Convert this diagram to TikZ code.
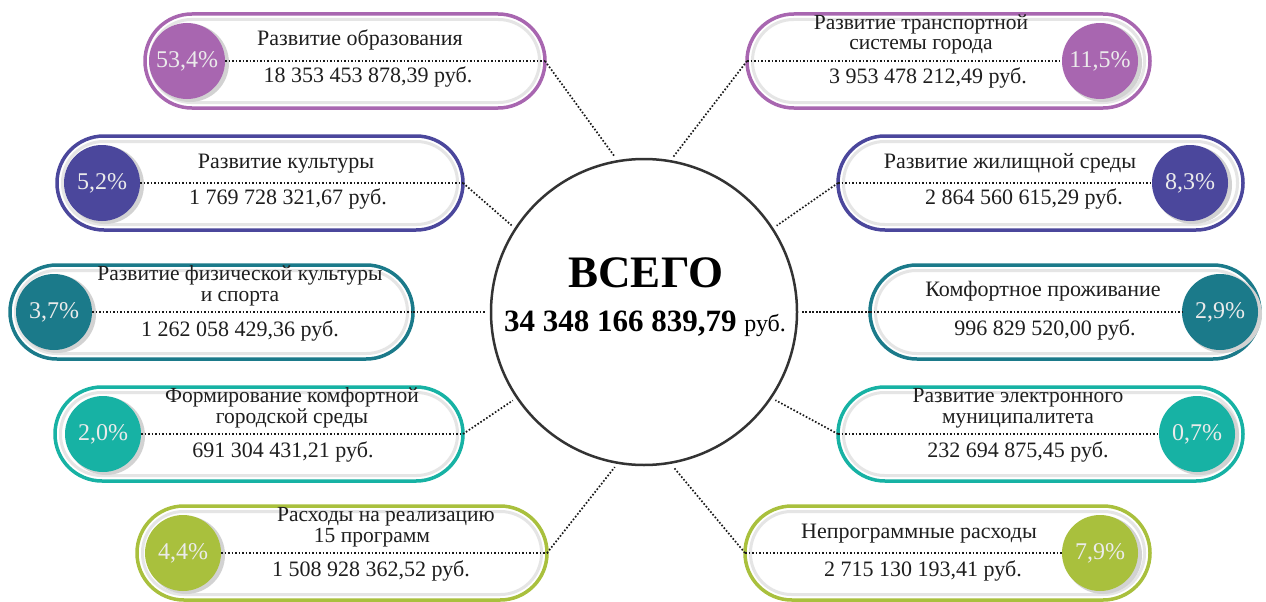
\documentclass[tikz,border=0pt]{standalone}
\usepackage{fontspec}
\setmainfont{Liberation Serif}
\definecolor{cPur}{HTML}{A866B0}
\definecolor{cBlu}{HTML}{4B479C}
\definecolor{cTea}{HTML}{1B7A8A}
\definecolor{cTur}{HTML}{17B2A4}
\definecolor{cGrn}{HTML}{A9C03D}
\definecolor{txt}{HTML}{1E1E1E}
\newcommand\pillshape[4]{% x1 x2 yc color
  \fill[white, rounded corners=46.9pt] (#1,#3-47) rectangle (#2,#3+47);
  \draw[gray!20, line width=3pt, rounded corners=41pt] (#1+5.5,#3-41.5) rectangle (#2-5.5,#3+41.5);
  \draw[#4, line width=3.5pt, rounded corners=46.9pt] (#1,#3-47) rectangle (#2,#3+47);
}
\newcommand\twolines[2]{{\fontsize{21.5}{20.5}\selectfont\begin{tabular}[b]{@{}c@{}}#1\\#2\end{tabular}}}
\begin{document}
\begin{tikzpicture}[x=1pt,y=-1pt,
  dotline/.style={line width=1.7pt, dash pattern=on 1.6pt off 1.9pt, black!90},
  pct/.style={circle, minimum size=76pt, inner sep=0pt, text=white!92!black, font=\fontsize{24}{24}\selectfont},
  pshadow/.style={circle, fill=gray!35, minimum size=78pt, inner sep=0pt},
  lbl/.style={anchor=base, inner sep=0pt, text=txt, font=\fontsize{22}{20}\selectfont}]
\useasboundingbox (0,0) rectangle (1266,602);
\fill[white] (0,0) rectangle (1266,602);

% centre
\node[circle, draw=black!80, line width=2.5pt, minimum size=306pt, inner sep=0pt, fill=white] (c) at (644,312) {};
\node[anchor=base, inner sep=0pt, font=\fontsize{45}{45}\selectfont\bfseries] (vsego) at (646,287) {ВСЕГО};
\node[anchor=base, inner sep=0pt] (total) at (645,331) {\fontsize{31}{31}\selectfont\bfseries 34 348 166 839,79 \mdseries\fontsize{24}{24}\selectfont руб.};

% ---------- left pills ----------
% L1
\pillshape{145}{545}{61}{cPur}
\coordinate (L1e) at (545,61);
\node[pshadow] (L1s) at (190,63) {};
\node[pct, fill=cPur] (L1p) at (187,61) {53,4\%};
\draw[dotline] (L1p.east) -- (L1e);
\node[lbl] (L1t) at (360,46) {Развитие образования};
\node[lbl] (L1a) at (368,82) {18 353 453 878,39 руб.};
% L2
\pillshape{57}{463}{183}{cBlu}
\coordinate (L2e) at (463,183);
\node[pshadow] (L2s) at (105,185) {};
\node[pct, fill=cBlu] (L2p) at (102,183) {5,2\%};
\draw[dotline] (L2p.east) -- (L2e);
\node[lbl] (L2t) at (286,168) {Развитие культуры};
\node[lbl] (L2a) at (288,204) {1 769 728 321,67 руб.};
% L3
\pillshape{10}{413}{312}{cTea}
\coordinate (L3e) at (413,312);
\node[pshadow] (L3s) at (57,314) {};
\node[pct, fill=cTea] (L3p) at (54,312) {3,7\%};
\draw[dotline] (L3p.east) -- (L3e);
\node[lbl] (L3t) at (240,301) {\twolines{Развитие физической культуры}{и спорта}};
\node[lbl] (L3a) at (240,336) {1 262 058 429,36 руб.};
% L4
\pillshape{55}{463}{434}{cTur}
\coordinate (L4e) at (463,434);
\node[pshadow] (L4s) at (106,436) {};
\node[pct, fill=cTur] (L4p) at (103,434) {2,0\%};
\draw[dotline] (L4p.east) -- (L4e);
\node[lbl] (L4t) at (292,423) {\twolines{Формирование комфортной}{городской среды}};
\node[lbl] (L4a) at (283,457) {691 304 431,21 руб.};
% L5
\pillshape{137}{547}{553}{cGrn}
\coordinate (L5e) at (547,553);
\node[pshadow] (L5s) at (186,555) {};
\node[pct, fill=cGrn] (L5p) at (183,553) {4,4\%};
\draw[dotline] (L5p.east) -- (L5e);
\node[lbl] (L5t) at (386,542) {\twolines{Расходы на реализацию}{15 программ\hspace*{28pt}}};
\node[lbl] (L5a) at (371,576) {1 508 928 362,52 руб.};

% ---------- right pills ----------
% R1
\pillshape{747}{1150}{61}{cPur}
\coordinate (R1e) at (747,61);
\node[pshadow] (R1s) at (1103,63) {};
\node[pct, fill=cPur] (R1p) at (1100,61) {11,5\%};
\draw[dotline] (R1e) -- (R1p.west);
\node[lbl] (R1t) at (921,50) {\twolines{Развитие транспортной}{системы города}};
\node[lbl] (R1a) at (928,84) {3 953 478 212,49 руб.};
% R2
\pillshape{838}{1243}{183}{cBlu}
\coordinate (R2e) at (838,183);
\node[pshadow] (R2s) at (1193,185) {};
\node[pct, fill=cBlu] (R2p) at (1190,183) {8,3\%};
\draw[dotline] (R2e) -- (R2p.west);
\node[lbl] (R2t) at (1010,168) {Развитие жилищной среды};
\node[lbl] (R2a) at (1024,204) {2 864 560 615,29 руб.};
% R3
\pillshape{870}{1260}{312}{cTea}
\coordinate (R3e) at (870,312);
\node[pshadow] (R3s) at (1223,314) {};
\node[pct, fill=cTea] (R3p) at (1220,312) {2,9\%};
\draw[dotline] (R3e) -- (R3p.west);
\node[lbl] (R3t) at (1043,296) {Комфортное проживание};
\node[lbl] (R3a) at (1045,335) {996 829 520,00 руб.};
% R4
\pillshape{838}{1243}{434}{cTur}
\coordinate (R4e) at (838,434);
\node[pshadow] (R4s) at (1200,436) {};
\node[pct, fill=cTur] (R4p) at (1197,434) {0,7\%};
\draw[dotline] (R4e) -- (R4p.west);
\node[lbl] (R4t) at (1018,423) {\twolines{Развитие электронного}{муниципалитета}};
\node[lbl] (R4a) at (1018,457) {232 694 875,45 руб.};
% R5
\pillshape{745}{1150}{553}{cGrn}
\coordinate (R5e) at (745,553);
\node[pshadow] (R5s) at (1103,555) {};
\node[pct, fill=cGrn] (R5p) at (1100,553) {7,9\%};
\draw[dotline] (R5e) -- (R5p.west);
\node[lbl] (R5t) at (919,538) {Непрограммные расходы};
\node[lbl] (R5a) at (923,576) {2 715 130 193,41 руб.};

% ---------- connectors ----------
\draw[dotline, shorten >=4pt] (L1e) -- (c.100);
\draw[dotline, shorten >=4pt] (L2e) -- (c.147);
\draw[dotline, shorten >=4pt] (L3e) -- (c.180);
\draw[dotline, shorten >=4pt] (L4e) -- (c.214);
\draw[dotline, shorten >=4pt] (L5e) -- (c.260);
\draw[dotline, shorten >=4pt] (R1e) -- (c.80);
\draw[dotline, shorten >=4pt] (R2e) -- (c.33);
\draw[dotline, shorten >=4pt] (R3e) -- (c.0);
\draw[dotline, shorten >=4pt] (R4e) -- (c.-34);
\draw[dotline, shorten >=4pt] (R5e) -- (c.-80);
\end{tikzpicture}
\end{document}
